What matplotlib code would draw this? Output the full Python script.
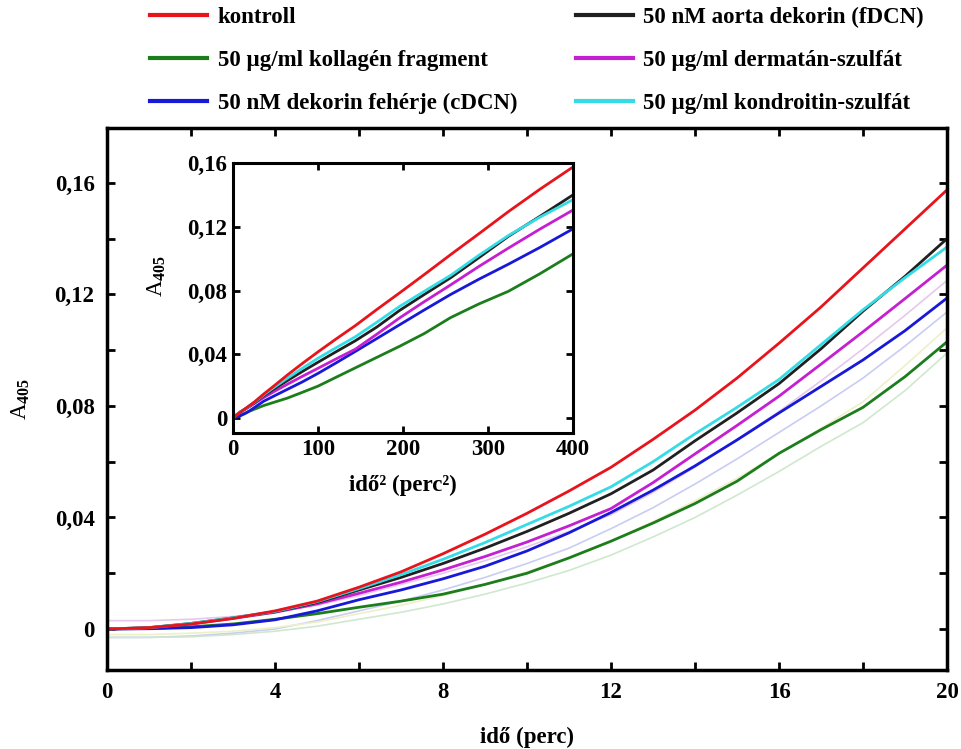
import matplotlib
matplotlib.use("Agg")
import matplotlib.pyplot as plt
from matplotlib.ticker import MultipleLocator, FixedLocator
import numpy as np

plt.rcParams['font.family'] = ['Liberation Serif', 'DejaVu Serif']
plt.rcParams['font.weight'] = 'bold'
plt.rcParams['mathtext.fontset'] = 'custom'
plt.rcParams['mathtext.rm'] = 'Liberation Serif:bold'
plt.rcParams['mathtext.it'] = 'Liberation Serif:bold'
plt.rcParams['mathtext.bf'] = 'Liberation Serif:bold'

# ---- data ----
t = [0, 1, 2, 3, 4, 5, 6, 7, 8, 9, 10, 11, 12, 13, 14, 15, 16, 17, 18, 19, 20]
kontroll = [0.0, 0.0005, 0.0018, 0.0038, 0.0065, 0.0100, 0.0150, 0.0205, 0.0270, 0.0340,
            0.0415, 0.0495, 0.0580, 0.0680, 0.0785, 0.0900, 0.1025, 0.1155, 0.1295, 0.1435, 0.1575]
kollagen = [0.0, 0.0002, 0.0008, 0.0018, 0.0035, 0.0055, 0.0078, 0.0100, 0.0125, 0.0160,
            0.0200, 0.0255, 0.0315, 0.0380, 0.0450, 0.0530, 0.0630, 0.0715, 0.0795, 0.0905, 0.1030]
cdcn = [0.0, 0.0001, 0.0005, 0.0015, 0.0033, 0.0065, 0.0105, 0.0140, 0.0180, 0.0225,
        0.0280, 0.0345, 0.0418, 0.0498, 0.0585, 0.0678, 0.0775, 0.0870, 0.0965, 0.1070, 0.1187]
fdcn = [0.0, 0.0005, 0.0020, 0.0040, 0.0062, 0.0095, 0.0140, 0.0185, 0.0235, 0.0290,
        0.0350, 0.0415, 0.0485, 0.0570, 0.0675, 0.0775, 0.0880, 0.1005, 0.1140, 0.1265, 0.1400]
dermatan = [0.0, 0.0004, 0.0018, 0.0038, 0.0060, 0.0090, 0.0128, 0.0168, 0.0212, 0.0260,
            0.0312, 0.0370, 0.0432, 0.0525, 0.0628, 0.0730, 0.0835, 0.0950, 0.1066, 0.1185, 0.1305]
kondroitin = [0.0, 0.0005, 0.0020, 0.0040, 0.0063, 0.0098, 0.0145, 0.0195, 0.0250, 0.0310,
              0.0375, 0.0440, 0.0510, 0.0600, 0.0700, 0.0795, 0.0895, 0.1020, 0.1145, 0.1260, 0.1370]

# faint (SD) lines
faint_a = [0.003, 0.003, 0.0035, 0.0045, 0.006, 0.0085, 0.012, 0.016, 0.020, 0.0245, 0.0295,
           0.035, 0.041, 0.049, 0.058, 0.068, 0.078, 0.089, 0.1005, 0.1125, 0.125]
faint_b = [-0.003, -0.003, -0.0025, -0.0015, 0.0, 0.003, 0.0065, 0.010, 0.014, 0.0185, 0.0235,
           0.029, 0.036, 0.0435, 0.052, 0.061, 0.0705, 0.080, 0.090, 0.1015, 0.1137]
faint_c = [-0.002, -0.002, -0.0015, -0.0008, 0.0005, 0.0025, 0.0055, 0.0085, 0.0120, 0.016, 0.0205,
           0.0255, 0.0315, 0.0385, 0.046, 0.054, 0.063, 0.072, 0.0815, 0.0945, 0.108]
faint_d = [-0.003, -0.003, -0.0028, -0.002, -0.0008, 0.001, 0.0035, 0.006, 0.0090, 0.0125, 0.0165,
           0.021, 0.0265, 0.033, 0.040, 0.048, 0.0565, 0.0655, 0.074, 0.0855, 0.099]

labels = ['kontroll', '50 µg/ml kollagén fragment', '50 nM dekorin fehérje (cDCN)',
          '50 nM aorta dekorin (fDCN)', '50 µg/ml dermatán-szulfát', '50 µg/ml kondroitin-szulfát']
main_xticks = [0, 4, 8, 12, 16, 20]
main_yticks = [0, 0.04, 0.08, 0.12, 0.16]
main_yticklabels = ['0', '0,04', '0,08', '0,12', '0,16']
inset_xticks = [0, 100, 200, 300, 400]
inset_yticks = [0, 0.04, 0.08, 0.12, 0.16]
inset_yticklabels = ['0', '0,04', '0,08', '0,12', '0,16']

colors = {'kontroll': '#e8141c', 'kollagen': '#1b7d1b', 'cdcn': '#1818d8',
          'fdcn': '#202020', 'dermatan': '#c41fd0', 'kondroitin': '#35dce6'}

series = [(kollagen, colors['kollagen'], labels[1]),
          (cdcn, colors['cdcn'], labels[2]),
          (dermatan, colors['dermatan'], labels[4]),
          (fdcn, colors['fdcn'], labels[3]),
          (kondroitin, colors['kondroitin'], labels[5]),
          (kontroll, colors['kontroll'], labels[0])]

FS = 16.5

fig = plt.figure(figsize=(9.62, 7.49), dpi=100)
ax = fig.add_axes([107/962, 1-670/749, 840/962, 542/749])

for f, c in [(faint_a, '#e6c8ee'), (faint_b, '#c9cdf2'), (faint_c, '#eef0c8'), (faint_d, '#cfe8cf')]:
    ax.plot(t, f, color=c, lw=1.2)

handles = {}
for y, c, lab in series:
    h, = ax.plot(t, y, color=c, lw=2.0, label=lab)
    handles[lab] = h

ax.set_xlim(0, 20)
ax.set_ylim(-0.0147, 0.1797)
ax.xaxis.set_major_locator(FixedLocator(main_xticks))
ax.xaxis.set_minor_locator(MultipleLocator(2))
ax.yaxis.set_major_locator(FixedLocator(main_yticks))
ax.set_yticklabels(main_yticklabels)
ax.yaxis.set_minor_locator(MultipleLocator(0.02))
ax.tick_params(which='both', direction='in', top=True, right=True, length=6, width=2,
               labelsize=FS, pad=9)
for s in ax.spines.values():
    s.set_linewidth(2.5)
ax.set_xlabel('idő (perc)', fontsize=FS, fontweight='bold', labelpad=17)
ax.set_ylabel('A$_{405}$', fontsize=FS, labelpad=16)

# inset
ins = fig.add_axes([233/962, 1-433/749, 340/962, 270/749])
for y, c, lab in series:
    ins.plot(np.array(t)**2, y, color=c, lw=2.0)
ins.set_xlim(0, 400)
ins.set_ylim(-0.0094, 0.16)
ins.xaxis.set_major_locator(FixedLocator(inset_xticks))
ins.yaxis.set_major_locator(FixedLocator(inset_yticks))
ins.set_yticklabels(inset_yticklabels)
ins.tick_params(direction='in', top=True, right=True, length=5, width=2, labelsize=FS, pad=4)
for s in ins.spines.values():
    s.set_linewidth(2.2)
ins.set_xlabel('idő² (perc²)', fontsize=FS, fontweight='bold', labelpad=11)
ins.set_ylabel('A$_{405}$', fontsize=FS)
ins.yaxis.set_label_coords(-0.19, 0.58)

fig.legend([handles[l] for l in labels], labels, ncol=2, frameon=False,
           loc='upper left', bbox_to_anchor=(150/962, 1-7/749), borderaxespad=0, borderpad=0,
           handlelength=2.5, handletextpad=0.45, labelspacing=0.95,
           columnspacing=2.55, prop={'weight': 'bold', 'size': FS})
for lh in fig.legends[0].get_lines():
    lh.set_linewidth(3)

fig.savefig('out.png', dpi=100)
